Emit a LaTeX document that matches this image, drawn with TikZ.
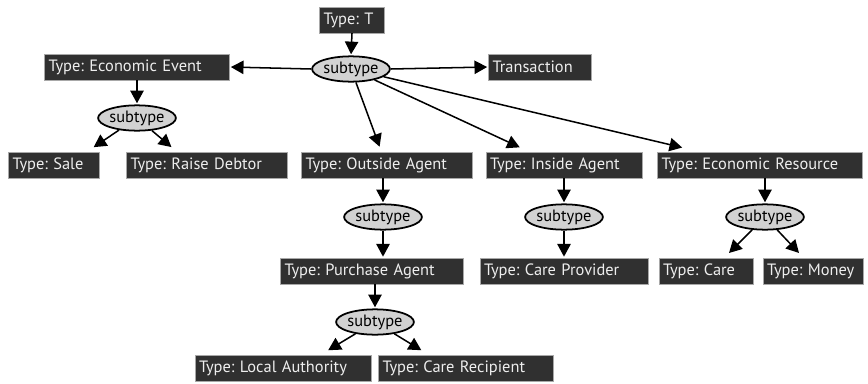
\documentclass[tikz,border=0pt]{standalone}
\usepackage{fontspec}
\setmainfont{PT Sans}
\usepackage{tikz}
\usetikzlibrary{positioning, arrows.meta, shapes.geometric, calc}
\usepackage{xcolor}
\frenchspacing

\definecolor{boxgray}{HTML}{303030}
\definecolor{boxedge}{HTML}{A8A8A8}
\definecolor{boxtext}{HTML}{EEEEEE}
\definecolor{ovalgray}{HTML}{D2D2D2}

\begin{document}
\begin{tikzpicture}[x=0.3mm, y=-0.3mm, font=\fontsize{14pt}{16pt}\selectfont]

        % Styles
        \tikzstyle{typebox} = [draw=boxedge, line width=0.3pt, fill=boxgray, text=boxtext,
                               minimum height=7.8mm, inner xsep=1.2mm, inner ysep=0pt, align=left]
        \tikzstyle{oval} = [ellipse, draw=black, line width=1.5pt, fill=ovalgray,
                            minimum width=23mm, minimum height=7.6mm, inner sep=0pt]
        \tikzstyle{link} = [line width=1.3pt, -{Triangle[length=3.8mm, width=4mm]}, shorten >=1pt]

        \useasboundingbox (0,0) rectangle (868,384);

        % --- ROOT ---
        \node[typebox, text width=17.1mm] (typeT) at (352,20) {Type: T};
        \node[oval] (sub0) at (351,69) {subtype};
        \node[typebox, text width=53.1mm] (event) at (137,67) {Type: Economic Event};
        \node[typebox, text width=28.5mm] (trans) at (540,67) {Transaction};

        % --- ECONOMIC EVENT ---
        \node[oval] (sub1) at (137,118) {subtype};
        \node[typebox, text width=24.9mm] (sale) at (54,165) {Type: Sale};
        \node[typebox, text width=45.9mm] (debtor) at (207,165) {Type: Raise Debtor};

        % --- OUTSIDE AGENT ---
        \node[typebox, text width=48.9mm] (outside) at (387,165) {Type: Outside Agent};
        \node[oval] (sub2) at (383,217) {subtype};
        \node[typebox, text width=52.5mm] (purchase) at (372,271) {Type: Purchase Agent};
        \node[oval] (sub3) at (375,322) {subtype};
        \node[typebox, text width=50.4mm] (local) at (283,368) {Type: Local Authority};
        \node[typebox, text width=50.1mm] (recip) at (466,368) {Type: Care Recipient};

        % --- INSIDE AGENT ---
        \node[typebox, text width=44.4mm] (inside) at (564,165) {Type: Inside Agent};
        \node[oval] (sub4) at (564,217) {subtype};
        \node[typebox, text width=48mm] (provider) at (564,271) {Type: Care Provider};

        % --- ECONOMIC RESOURCE ---
        \node[typebox, text width=59.1mm] (resource) at (760,165) {Type: Economic Resource};
        \node[oval] (sub5) at (765,217) {subtype};
        \node[typebox, text width=25.8mm] (care) at (706,271) {Type: Care};
        \node[typebox, text width=27.6mm] (money) at (813,271) {Type: Money};

        % Arrows from the root
        \draw[link] (typeT.south) -- (sub0.north);
        \draw[link] (sub0.west) -- (event.east);
        \draw[link] (sub0.east) -- (trans.west);
        \draw[link] (sub0) -- ($(outside.north)+(-7,-4)$);
        \draw[link] (sub0) -- ($(inside.north west)+(35,-4)$);
        \draw[link] (sub0) -- ($(resource.north west)+(26,-4)$);

        % Economic event branch
        \draw[link] (event.south) -- (sub1.north);
        \draw[link] (sub1) -- ($(sale.north east)+(-7,-4)$);
        \draw[link] (sub1) -- ($(debtor.north west)+(46,-4)$);

        % Outside agent branch
        \draw[link] (outside.south -| sub2.north) -- (sub2.north);
        \draw[link] (sub2.south) -- (sub2.south |- purchase.north);
        \draw[link] (purchase.south -| sub3.north) -- (sub3.north);
        \draw[link] (sub3) -- ($(local.north east)+(-44,-4)$);
        \draw[link] (sub3) -- ($(recip.north west)+(44,-4)$);

        % Inside agent branch
        \draw[link] (inside.south) -- (sub4.north);
        \draw[link] (sub4.south) -- (provider.north);

        % Economic resource branch
        \draw[link] (resource.south -| sub5.north) -- (sub5.north);
        \draw[link] (sub5) -- ($(care.north east)+(-25,-4)$);
        \draw[link] (sub5) -- ($(money.north west)+(37,-4)$);

    \end{tikzpicture}
\end{document}
